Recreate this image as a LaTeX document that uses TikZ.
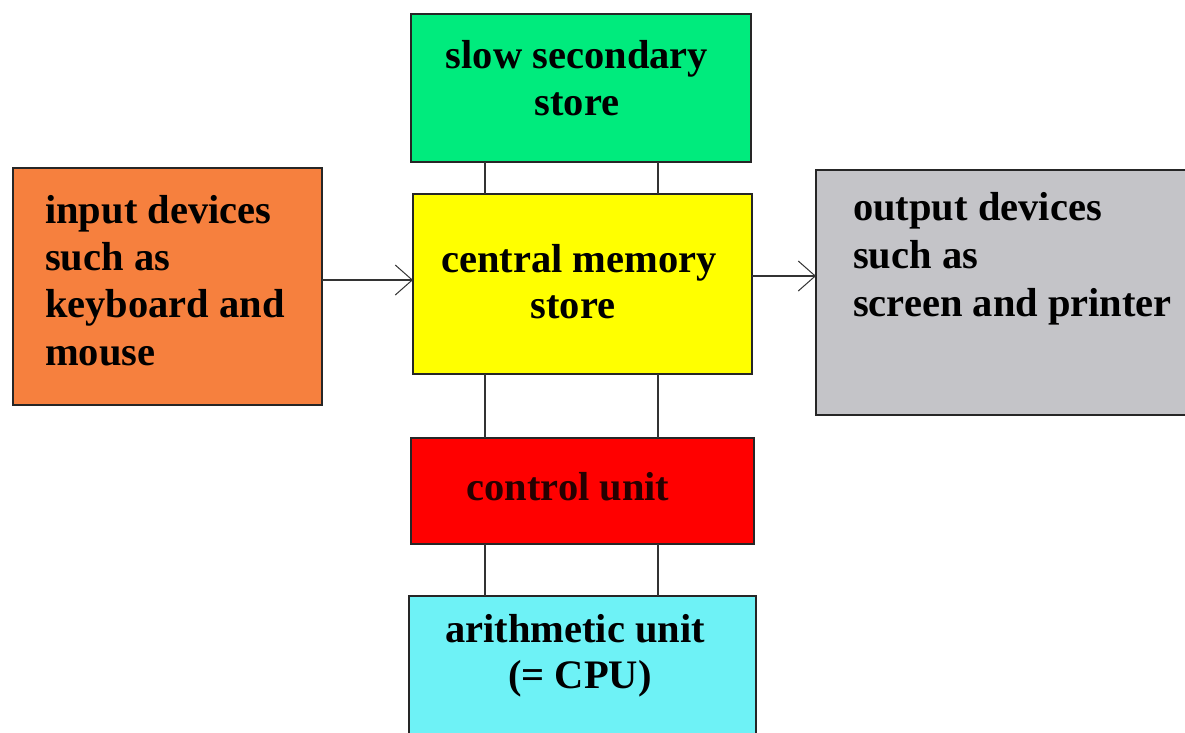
\documentclass[tikz,border=0pt]{standalone}
\usepackage{fontspec}
\setmainfont{Liberation Serif}
\usetikzlibrary{arrows.meta}
\definecolor{cgreen}{RGB}{0,235,125}
\definecolor{cyellow}{RGB}{255,255,0}
\definecolor{corange}{RGB}{246,128,62}
\definecolor{cred}{RGB}{255,0,0}
\definecolor{ccyan}{RGB}{110,242,246}
\definecolor{cgray}{RGB}{196,196,200}
\tikzset{
  box/.style={draw=black!85, line width=1.3pt, inner sep=0pt, outer sep=0pt},
  txt/.style={inner sep=0pt, font=\fontsize{40.5}{48}\selectfont\bfseries},
  wire/.style={draw=black!80, line width=1.3pt},
  arr/.style={wire, -{Straight Barb[length=17pt,width=30pt,line width=1pt]}}
}
\begin{document}
\begin{tikzpicture}[x=1pt,y=-1pt]
\clip (0,0) rectangle (1185,732);
\fill[white] (0,0) rectangle (1185,732);
% boxes
\node[box, fill=cgreen,  minimum width=340pt, minimum height=148pt] (sec) at (581,88) {};
\node[box, fill=cyellow, minimum width=339pt, minimum height=180pt] (mem) at (582.5,284) {};
\node[box, fill=corange, minimum width=309pt, minimum height=237pt] (inp) at (167.5,286.5) {};
\node[box, fill=cgray,   minimum width=380pt, minimum height=245pt] (out) at (1006,292.5) {};
\node[box, fill=cred,    minimum width=343pt, minimum height=106pt] (ctl) at (582.5,491) {};
\node[box, fill=ccyan,   minimum width=347pt, minimum height=160pt] (alu) at (582.5,676) {};
% texts
\node[txt, anchor=base] (sec1) at (577,68) {slow secondary};
\node[txt, anchor=base] (sec2) at (577,115) {store};
\node[txt, anchor=base] (mem1) at (579,272) {central memory};
\node[txt, anchor=base] (mem2) at (573,318) {store};
\node[txt, anchor=base west] (in1) at (45,223) {input devices};
\node[txt, anchor=base west] (in2) at (45,270) {such as};
\node[txt, anchor=base west] (in3) at (45,317) {keyboard and};
\node[txt, anchor=base west] (in4) at (45,365) {mouse};
\node[txt, anchor=base west] (out1) at (853,220) {output devices};
\node[txt, anchor=base west] (out2) at (853,268) {such as};
\node[txt, anchor=base west] (out3) at (853,316) {screen and printer};
\node[txt, anchor=base, text=black!85!red] (ctl1) at (568,500) {control unit};
\node[txt, anchor=base] (alu1) at (575,642) {arithmetic unit};
\node[txt, anchor=base] (alu2) at (580,688) {(= CPU)};
% connectors
\coordinate (cl) at (485,0);
\coordinate (cr) at (658,0);
\coordinate (ay) at (0,280);
\coordinate (by) at (0,276);
\draw[wire] (sec.south -| cl) -- (mem.north -| cl);
\draw[wire] (sec.south -| cr) -- (mem.north -| cr);
\draw[wire] (mem.south -| cl) -- (ctl.north -| cl);
\draw[wire] (mem.south -| cr) -- (ctl.north -| cr);
\draw[wire] (ctl.south -| cl) -- (alu.north -| cl);
\draw[wire] (ctl.south -| cr) -- (alu.north -| cr);
\draw[arr] (inp.east |- ay) -- (mem.west |- ay);
\draw[arr] (mem.east |- by) -- (out.west |- by);
\end{tikzpicture}
\end{document}
